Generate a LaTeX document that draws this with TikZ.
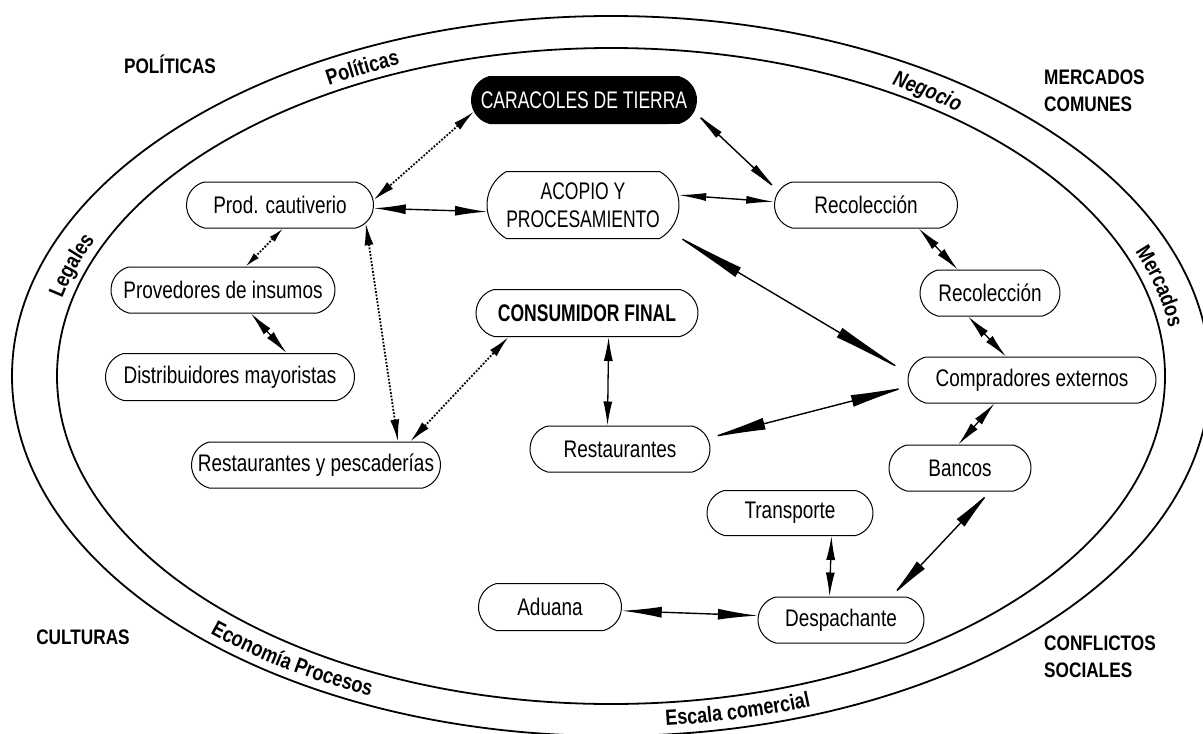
\documentclass[tikz,border=0pt]{standalone}
\usepackage{fontspec}
\setmainfont{Liberation Sans}[FakeStretch=0.79]
\newfontfamily\capsfamily{Liberation Sans}[FakeStretch=0.73]
\newfontfamily\tagfamily{Liberation Sans}[FakeStretch=0.82]
\usetikzlibrary{arrows.meta,decorations.text,shapes.misc}

\newcommand{\boxfont}{\fontsize{24}{28}\selectfont}
\newcommand{\capsboxfont}{\capsfamily\fontsize{24}{28}\selectfont}
\newcommand{\tagfont}{\tagfamily\bfseries\fontsize{21}{27}\selectfont}
\newcommand{\ringfont}{\tagfamily\bfseries\fontsize{22}{27}\selectfont}

\begin{document}
\begin{tikzpicture}[x=1pt,y=-1pt,
  box/.style={rounded rectangle, rounded rectangle arc length=150, draw,
    line width=1pt, font=\boxfont, inner sep=0pt, align=center},
  capsbox/.style={box, font=\capsboxfont},
  tag/.style={font=\tagfont, inner sep=0pt, align=left},
  link/.style={line width=1.3pt,
    {Latex[length=24pt,width=9pt]}-{Latex[length=24pt,width=9pt]}},
  biglink/.style 2 args={line width=1.4pt,
    {Latex[length=#1,width=#2]}-{Latex[length=#1,width=#2]}},
  dotlink/.style={line width=1.8pt, dash pattern=on 1.8pt off 1.6pt,
    {Latex[length=22pt,width=9pt]}-{Latex[length=22pt,width=9pt]}},
  ring/.style={line width=1.8pt},
  curvetext/.style={decorate, decoration={text along path, text align=center, text={#1}}}
]
\useasboundingbox (0,0) rectangle (1203,734);
\clip (0,0) rectangle (1203,734);

% the two rings
\draw[ring] (611,376) ellipse [x radius=599pt, y radius=360pt];
\draw[ring] (611,376) ellipse [x radius=554pt, y radius=328pt];

% words written between the rings (centre of the rings as origin)
\begin{scope}[shift={(611,376)}]
  \path[curvetext={|\ringfont|Políticas}]
    ({562*cos(130)},{-336*sin(130)}) arc[start angle=130, end angle=103, x radius=562pt, y radius=336pt];
  \path[curvetext={|\ringfont\itshape|Negocio}]
    ({562*cos(68)},{-336*sin(68)}) arc[start angle=68, end angle=43, x radius=562pt, y radius=336pt];
  \path[curvetext={|\ringfont|Legales}]
    ({564*cos(175)},{-337*sin(175)}) arc[start angle=175, end angle=149, x radius=564pt, y radius=337pt];
  \path[curvetext={|\ringfont|Mercados}]
    ({564*cos(28)},{-337*sin(28)}) arc[start angle=28, end angle=1, x radius=564pt, y radius=337pt];
  \path[curvetext={|\ringfont|Economía Procesos}]
    ({590*cos(-145)},{-351*sin(-145)}) arc[start angle=-145, end angle=-104, x radius=590pt, y radius=351pt];
  \path[curvetext={|\ringfont|Escala comercial}]
    ({590*cos(-97)},{-351*sin(-97)}) arc[start angle=-97, end angle=-57, x radius=590pt, y radius=351pt];
\end{scope}

% words outside the rings
\node[tag] (tpol) at (170,64) {POLÍTICAS};
\node[tag, anchor=west] (tmer) at (1044,91) {MERCADOS\\COMUNES};
\node[tag] (tcul) at (83,637) {CULTURAS};
\node[tag, anchor=west] (tcon) at (1044,657) {CONFLICTOS\\SOCIALES};

% actors
\node[capsbox, fill=black, text=white, minimum width=225pt, minimum height=47pt] (car) at (584,100) {CARACOLES DE TIERRA};
\node[box, minimum width=187pt, minimum height=46pt] (prod) at (280,205) {Prod. cautiverio};
\node[capsbox, rounded rectangle arc length=120, minimum width=192pt, minimum height=67pt] (aco) at (583,205) {ACOPIO Y\\PROCESAMIENTO};
\node[box, minimum width=183pt, minimum height=46pt] (rec1) at (866,205) {Recolección};
\node[box, minimum width=224pt, minimum height=46pt] (prov) at (223,290) {Provedores de insumos};
\node[box, minimum width=140pt, minimum height=46pt] (rec2) at (990,293) {Recolección};
\node[capsbox, font=\capsboxfont\bfseries, minimum width=222pt, minimum height=47pt] (cons) at (587,313) {CONSUMIDOR FINAL};
\node[box, minimum width=249pt, minimum height=47pt] (dist) at (230,377) {Distribuidores mayoristas};
\node[box, minimum width=248pt, minimum height=46pt] (comp) at (1032,380) {Compradores externos};
\node[box, minimum width=180pt, minimum height=46pt] (rest) at (620,449) {Restaurantes};
\node[box, minimum width=249pt, minimum height=46pt] (rpes) at (316,465) {Restaurantes y pescaderías};
\node[box, minimum width=142pt, minimum height=46pt] (banc) at (960,468) {Bancos};
\node[box, minimum width=166pt, minimum height=45pt] (trans) at (790,513) {Transporte};
\node[box, minimum width=143pt, minimum height=47pt] (adu) at (550,607) {Aduana};
\node[box, minimum width=166pt, minimum height=46pt] (desp) at (841,620) {Despachante};

% relations
\draw[dotlink] (car.186) -- (prod.3);
\draw[biglink={32pt}{10pt}] (prod.-2) -- (aco.184);
\draw[biglink={34pt}{8pt}] (car.-6) -- (rec1.171);
\draw[biglink={28pt}{8pt}] (aco.6) -- (rec1.178);
\draw[biglink={80pt}{11pt}] (aco.-17) -- (comp.177);
\draw[link] (prov.-40) -- (dist.23);
\draw[dotlink, {Latex[length=15pt,width=7pt]}-{Latex[length=15pt,width=7pt]}] (prod.-83) -- (prov.46);
\draw[dotlink] (prod.-12) -- (rpes.16);
\draw[dotlink] (rpes.14) -- (cons.197);
\draw[link] (cons.-48) -- (rest.118);
\draw[biglink={58pt}{12pt}] (rest.7) -- (comp.183);
\draw[link] (rec1.-24) -- (rec2.144);
\draw[link] (rec2.227) -- (comp.138);
\draw[link] (comp.212) -- (banc.94);
\draw[biglink={43pt}{11pt}] (banc.-38) -- (desp.25);
\draw[link] (trans.-29) -- (desp.116);
\draw[biglink={40pt}{11pt}] (adu.-3) -- (desp.177);
\end{tikzpicture}
\end{document}
